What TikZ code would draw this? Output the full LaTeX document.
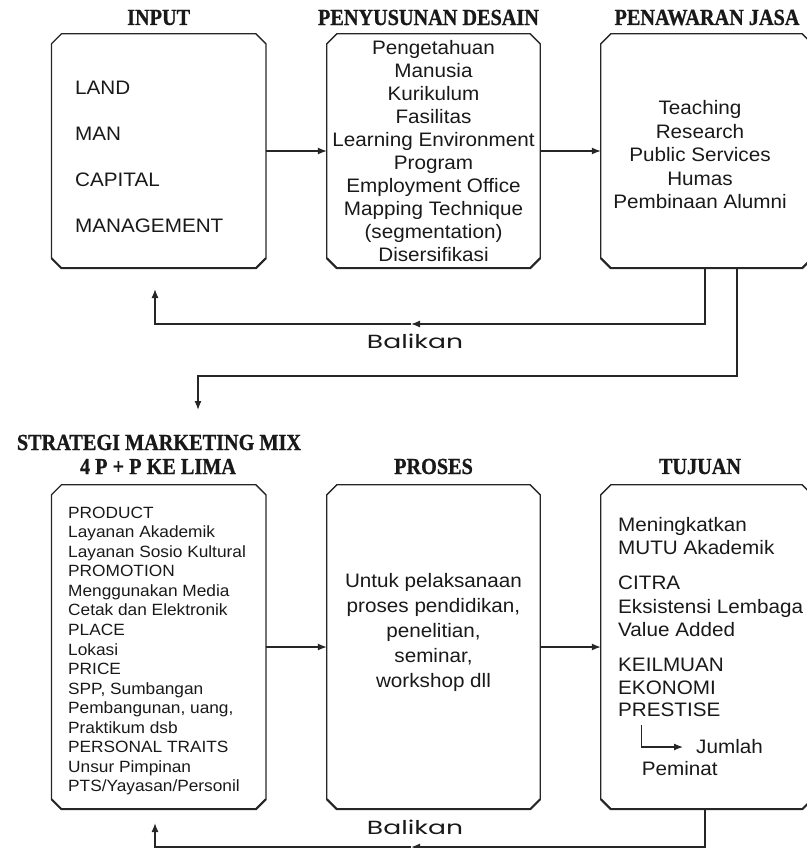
\documentclass[tikz,border=0pt]{standalone}
\usepackage{fontspec}
\setmainfont{Liberation Sans}[FakeStretch=1.06]
\newfontfamily\hdfont{Liberation Serif}[FakeStretch=0.88, BoldFeatures={FakeBold=0.8}]
\newfontfamily\blfont{Poppins}[FakeStretch=1.4]
\usetikzlibrary{arrows.meta}
\colorlet{lc}{black!85}
\tikzset{
  boxn/.style={draw=none, minimum width=214pt, inner sep=0pt},
  ln/.style={line width=1.3pt, draw=lc},
  arr/.style={ln, -{Latex[length=9pt,width=7pt]}},
  hd/.style={font=\hdfont\bfseries\fontsize{23}{24}\selectfont, inner sep=0pt, text=black!90},
  txt/.style={font=\fontsize{19.5}{23}\selectfont, inner sep=0pt, text=black!90},
  smalltxt/.style={font=\fontsize{16.3}{19.57}\selectfont, inner sep=0pt, text=black!90, align=left},
  bl/.style={font=\blfont\fontsize{19}{20}\selectfont, inner sep=0pt, text=black!90}
}
\newcommand\chbox[1]{%
  \draw[ln] ([xshift=10pt]#1.north west) -- ([xshift=-10pt]#1.north east) -- ([yshift=-10pt]#1.north east)
    -- ([yshift=10pt]#1.south east) -- ([xshift=-10pt]#1.south east) -- ([xshift=10pt]#1.south west)
    -- ([yshift=10pt]#1.south west) -- ([yshift=-10pt]#1.north west) -- cycle;
  \draw[line width=2pt, draw=lc] ([yshift=10pt]#1.south west) -- ([xshift=10pt]#1.south west) -- ([xshift=-10pt]#1.south east) -- ([yshift=10pt]#1.south east);}
\begin{document}
\begin{tikzpicture}[x=1pt,y=-1pt]
\useasboundingbox (0,0) rectangle (806,848);
% headings
\node[hd] (h1) at (158.7,17.5) {INPUT};
\node[hd] (h2) at (428.5,17.5) {PENYUSUNAN DESAIN};
\node[hd] (h3) at (707,17.5) {PENAWARAN JASA};
\node[hd] (h4) at (159,442.5) {STRATEGI MARKETING MIX};
\node[hd] (h5) at (158,466.5) {4 P + P KE LIMA};
\node[hd] (h6) at (433.5,466.5) {PROSES};
\node[hd] (h7) at (700,466.5) {TUJUAN};
% boxes
\node[boxn, minimum height=234pt] (b1) at (158.7,151) {};
\node[boxn, minimum height=234pt, minimum width=213pt] (b2) at (433.5,151) {};
\node[boxn, minimum height=234pt, minimum width=211pt] (b3) at (706.5,151) {};
\node[boxn, minimum height=324pt] (b4) at (158.7,647) {};
\node[boxn, minimum height=324pt, minimum width=213pt] (b5) at (433.5,647) {};
\node[boxn, minimum height=324pt, minimum width=211pt] (b6) at (706.5,647) {};
\chbox{b1}\chbox{b2}\chbox{b3}\chbox{b4}\chbox{b5}\chbox{b6}
% texts
\node[txt, anchor=west, align=left, font=\fontsize{19.5}{46}\selectfont] (t1) at (75,157)
  {LAND\\MAN\\CAPITAL\\MANAGEMENT};
\node[txt, align=center] (t2) at (433.5,151)
  {Pengetahuan\\Manusia\\Kurikulum\\Fasilitas\\Learning Environment\\Program\\Employment Office\\Mapping Technique\\(segmentation)\\Disersifikasi};
\node[txt, align=center, font=\fontsize{19.5}{23.5}\selectfont] (t3) at (700,155)
  {Teaching\\Research\\Public Services\\Humas\\Pembinaan Alumni};
\node[smalltxt, anchor=west] (t4) at (68,651)
  {PRODUCT\\Layanan Akademik\\Layanan Sosio Kultural\\PROMOTION\\Menggunakan Media\\Cetak dan Elektronik\\PLACE\\Lokasi\\PRICE\\SPP, Sumbangan\\Pembangunan, uang,\\Praktikum dsb\\PERSONAL TRAITS\\Unsur Pimpinan\\PTS/Yayasan/Personil};
\node[txt, align=center, font=\fontsize{19.5}{25}\selectfont] (t5) at (433.5,632)
  {Untuk pelaksanaan\\proses pendidikan,\\penelitian,\\seminar,\\workshop dll};
\node[txt, anchor=west, align=left] (t6a) at (618,536.5) {Meningkatkan\\MUTU Akademik};
\node[txt, anchor=west, align=left, font=\fontsize{19.5}{23.5}\selectfont] (t6b) at (618,606.5) {CITRA\\Eksistensi Lembaga\\Value Added};
\node[txt, anchor=west, align=left, font=\fontsize{19.5}{22.5}\selectfont] (t6c) at (618,687.5) {KEILMUAN\\EKONOMI\\PRESTISE};
\node[txt, anchor=west] (jum) at (696,747) {Jumlah};
\node[txt, anchor=west] (pem) at (641.7,769) {Peminat};
\coordinate (jst) at (641.7,725);
\draw[arr, line width=1.2pt] (jst) |- ([xshift=-13pt]jum.west);
% horizontal arrows
\draw[arr] (b1.east) -- (b2.west);
\draw[arr] (b2.east) -- (b3.west);
\draw[arr] (b4.east) -- (b5.west);
\draw[arr] (b5.east) -- (b6.west);
% upper feedback
\coordinate (f1a) at (705,324);
\coordinate (f1m) at (411,324);
\coordinate (f1c) at (155,324);
\coordinate (f1e) at (155,289);
\draw[arr] (b3.south -| f1a) |- (f1m);
\draw[arr] (f1m) -- (f1c) -- (f1e);
\node[bl] (bal1) at (415,341.5) {Balikan};
% down connector
\coordinate (d1) at (737,376);
\coordinate (d2) at (198,410);
\draw[arr] (b3.south -| d1) |- (d2 |- d1) -- (d2);
% lower feedback
\coordinate (f2a) at (705,847);
\coordinate (f2m) at (411,847);
\coordinate (f2e) at (155,823);
\draw[arr] (b6.south -| f2a) |- (f2m);
\draw[arr] (f2m) -| (f2e);
\node[bl] (bal2) at (415,827) {Balikan};
\end{tikzpicture}
\end{document}
